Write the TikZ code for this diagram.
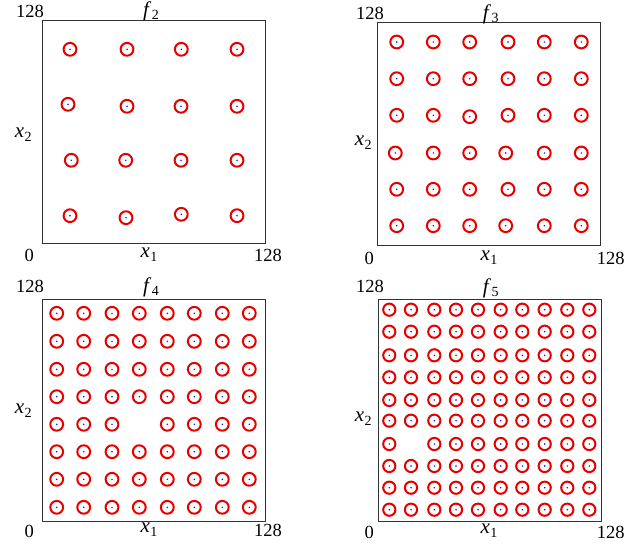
\documentclass[tikz,border=0pt]{standalone}
\usepackage{fontspec}
\setmainfont{Liberation Serif}
\newcommand{\vsub}[2]{{\fontsize{21}{21}\selectfont\textit{#1}}\kern0.5pt\raisebox{-0.45ex}{\fontsize{14}{14}\selectfont #2}}
\begin{document}
\begin{tikzpicture}[x=1pt,y=-1pt,
  frame/.style={draw=black!80,line width=1pt},
  ring/.style={draw=red!90!black,line width=2pt},
  lbl/.style={inner sep=0pt,font=\fontsize{18.5}{20}\selectfont},
]
\useasboundingbox (0,0) rectangle (643,551);
% ---------- panel f2
\draw[frame] (42,21) rectangle (265.5,243);
\foreach \p in {(70,49.3),(127,49.3),(181.3,49.3),(237,49.3),
  (68,104.3),(127,106.3),(181,106.3),(237,106.3),
  (71.3,160.3),(125.7,160.3),(181,160.3),(237,160.3),
  (70,215.7),(126,217.7),(181.3,214.3),(237,215.7)}{
  \draw[ring] \p circle[radius=6.4]; \fill[blue] \p circle[radius=0.8];}
\node[lbl] (a128t) at (30,11) {128};
\node[lbl] (af) at (151,11) {\vsub{f}{2}};
\node[lbl] (ax2) at (23.3,135) {\vsub{x}{2}};
\node[lbl] (a0) at (29.3,255) {0};
\node[lbl] (ax1) at (149,255) {\vsub{x}{1}};
\node[lbl] (a128r) at (268,255) {128};
% ---------- panel f3
\draw[frame] (377.3,22.3) rectangle (600.7,245);
\foreach \x in {396.7,433.3,469.7,508,544.3,581.3}{
  \foreach \y in {42,78.7,189.3}{
    \draw[ring] (\x,\y) circle[radius=6.4]; \fill[blue] (\x,\y) circle[radius=0.8];}}
\foreach \p in {(396.7,115.3),(433.3,115.3),(469.7,116.7),(508,115.3),(544.3,115.3),(581.3,115.3),
  (395.3,153),(433.3,153),(469.7,153),(505.7,153),(544.3,153),(581.3,153),
  (396.7,225.7),(433.3,225.7),(469.7,225.7),(505.7,225.7),(544.3,225.7),(581.3,225.7)}{
  \draw[ring] \p circle[radius=6.4]; \fill[blue] \p circle[radius=0.8];}
\node[lbl] (b128t) at (370,13) {128};
\node[lbl] (bf) at (490.7,14) {\vsub{f}{3}};
\node[lbl] (bx2) at (363.3,143) {\vsub{x}{2}};
\node[lbl] (b0) at (369.3,258) {0};
\node[lbl] (bx1) at (489,258) {\vsub{x}{1}};
\node[lbl] (b128r) at (610.7,258) {128};
% ---------- panel f4
\draw[frame] (42,299) rectangle (265.3,521);
\foreach \x [count=\i] in {56.7,83.7,112,139.3,167.3,194.3,222.3,249.3}{
  \foreach \y [count=\j] in {313.3,341.3,369.3,396.7,424.3,451.7,479.3,507.3}{
    \pgfmathtruncatemacro{\skip}{(\i==4)&&(\j==5)}
    \ifnum\skip=0
      \draw[ring] (\x,\y) circle[radius=6.4]; \fill[blue] (\x,\y) circle[radius=0.8];
    \fi}}
\node[lbl] (c128t) at (30,286) {128};
\node[lbl] (cf) at (151,287) {\vsub{f}{4}};
\node[lbl] (cx2) at (23.3,411) {\vsub{x}{2}};
\node[lbl] (c0) at (29.3,531) {0};
\node[lbl] (cx1) at (149,530) {\vsub{x}{1}};
\node[lbl] (c128r) at (268,530) {128};
% ---------- panel f5
\draw[frame] (378.7,299) rectangle (601.7,521.3);
\foreach \x [count=\i] in {389.3,411,434.3,456,478,500.7,522.3,544.7,567.3,589.3}{
  \foreach \y [count=\j] in {309.7,331.7,355.3,377.3,400,420.7,444,466,487.7,509.7}{
    \pgfmathtruncatemacro{\skip}{(\i==2)&&(\j==7)}
    \ifnum\skip=0
      \draw[ring] (\x,\y) circle[radius=6.1]; \fill[blue] (\x,\y) circle[radius=0.8];
    \fi}}
\node[lbl] (d128t) at (370,286) {128};
\node[lbl] (df) at (490.7,288) {\vsub{f}{5}};
\node[lbl] (dx2) at (363.3,419) {\vsub{x}{2}};
\node[lbl] (d0) at (369.3,532) {0};
\node[lbl] (dx1) at (489,531) {\vsub{x}{1}};
\node[lbl] (d128r) at (610.7,532) {128};
\end{tikzpicture}
\end{document}
